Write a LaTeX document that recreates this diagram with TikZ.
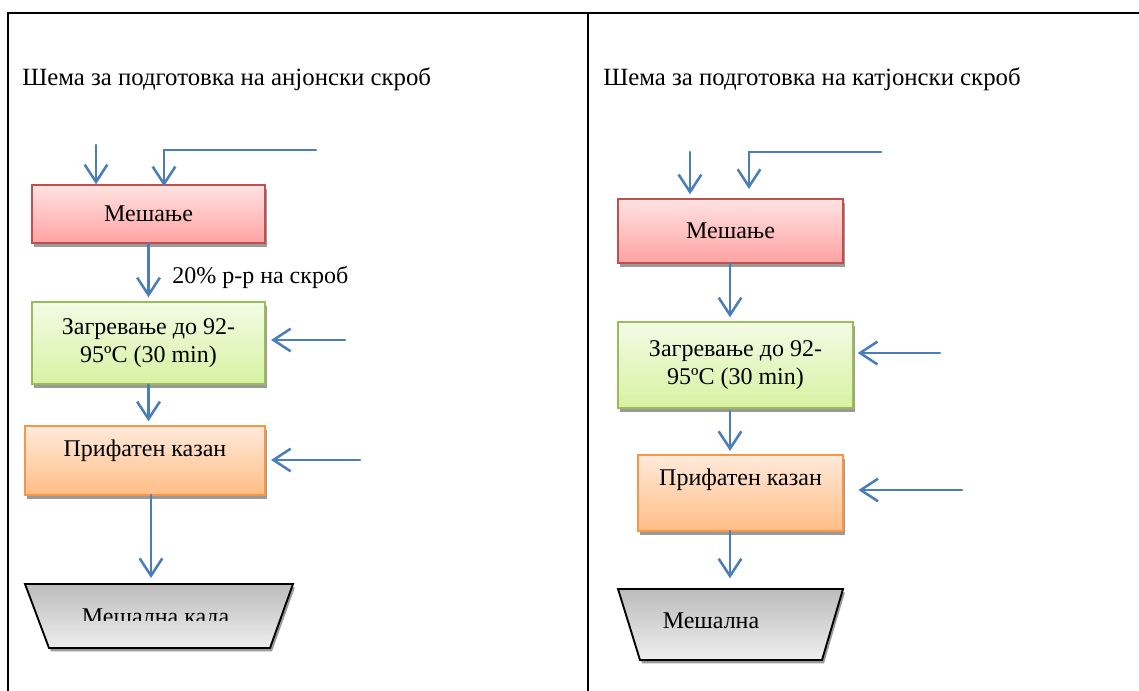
\documentclass[tikz,border=0pt]{standalone}
\usepackage{fontspec}
\setmainfont{Liberation Serif}
\usetikzlibrary{arrows.meta,shadows}
\definecolor{flowblue}{HTML}{4A7EBB}
\definecolor{redTop}{HTML}{FFE2E2}
\definecolor{redBot}{HTML}{FFA2A2}
\definecolor{redBorder}{HTML}{C0504D}
\definecolor{greenTop}{HTML}{F3FBE5}
\definecolor{greenBot}{HTML}{D6F2A2}
\definecolor{greenBorder}{HTML}{9BBB59}
\definecolor{orangeTop}{HTML}{FFEADB}
\definecolor{orangeBot}{HTML}{FFBD85}
\definecolor{orangeBorder}{HTML}{F79646}
\definecolor{tankTop}{HTML}{BCBCBC}
\definecolor{tankBot}{HTML}{EEEEEE}
\definecolor{shadowgray}{HTML}{9A9A9A}
\tikzset{
  boxbase/.style={rectangle, inner sep=0pt, line width=1.1pt, align=center,
    font=\fontsize{18}{21}\selectfont,
    drop shadow={shadow xshift=1.5pt, shadow yshift=-3pt, fill=shadowgray, opacity=1}},
  redbox/.style={boxbase, draw=redBorder, top color=redTop, bottom color=redBot},
  greenbox/.style={boxbase, draw=greenBorder, top color=greenTop, bottom color=greenBot},
  orangebox/.style={boxbase, draw=orangeBorder, top color=orangeTop, bottom color=orangeBot},
  tankshape/.style={draw=black, line width=1.4pt, top color=tankTop, bottom color=tankBot,
    drop shadow={shadow xshift=1.5pt, shadow yshift=-2.5pt, fill=shadowgray, opacity=1}},
  flow/.style={draw=flowblue, line width=1.9pt, line cap=round,
    -{Straight Barb[length=13pt, width=17pt, line width=1.9pt]}},
  titletext/.style={font=\fontsize{18.6}{21}\selectfont, anchor=base west, inner sep=0pt},
  plaintext/.style={font=\fontsize{18}{21}\selectfont, inner sep=0pt},
  frameline/.style={line width=1.5pt, draw=black}
}
\begin{document}
\begin{tikzpicture}[x=0.75pt, y=-0.75pt]
\useasboundingbox (0,0) rectangle (1139,691);
% frame
\draw[frameline] (8,691) -- (8,13) -- (1139,13);
\draw[frameline] (588,13) -- (588,691);

% titles
\node[titletext] (titleL) at (22,86) {Шема за подготовка на анјонски скроб};
\node[titletext] (titleR) at (603,86) {Шема за подготовка на катјонски скроб};

% ---------- left scheme ----------
\node[redbox, minimum width=174.75pt, minimum height=43.5pt] (mixL) at (148.5,214) {Мешање};
\node[greenbox, minimum width=174.75pt, minimum height=61.5pt] (heatL) at (148.5,343) {Загревање до 92-\\95ºC (30 min)};
\node[orangebox, minimum width=180pt, minimum height=51.75pt,
  label={[plaintext, name=recvLtext, yshift=7pt]center:Прифатен казан}] (recvL) at (145,460.5) {};
\path[tankshape] (25,584) -- (293,584) -- (270,648) -- (49,648) -- cycle;
\coordinate (tankL) at (151,584);
\begin{scope}
  \clip (20,580) rectangle (300,620);
  \node[plaintext, anchor=base] (tankLtext) at (155.5,624) {Мешална када};
\end{scope}

\coordinate (inL1) at (96,145);
\coordinate (inL2) at (316,150);
\coordinate (inL2b) at (164,150);
\coordinate (sideL1) at (345,340);
\coordinate (sideL2) at (360,460);

\draw[flow] (inL1) -- (inL1 |- mixL.north);
\draw[flow] (inL2) -- (inL2b) -- ([yshift=-1.5pt]inL2b |- mixL.north);
\draw[flow, shorten >=3pt] (mixL.south) -- (heatL.north);
\draw[flow, shorten >=3pt] (heatL.south) -- (heatL.south |- recvL.north);
\coordinate (recvLout) at (151,495);
\draw[flow, shorten >=4.5pt] (recvLout) -- (recvLout |- tankL);
\draw[flow, shorten >=4pt] (sideL1) -- (sideL1 -| heatL.east);
\draw[flow, shorten >=4pt] (sideL2) -- (sideL2 -| recvL.east);
\node[plaintext, anchor=west] (labelL) at (172,277) {20\% р-р на скроб};

% ---------- right scheme ----------
\node[redbox, minimum width=168.75pt, minimum height=48pt] (mixR) at (730.5,231) {Мешање};
\node[greenbox, minimum width=176.25pt, minimum height=64.5pt] (heatR) at (735.5,365) {Загревање до 92-\\95ºC (30 min)};
\node[orangebox, minimum width=153.75pt, minimum height=57pt,
  label={[plaintext, name=recvRtext, yshift=10pt]center:Прифатен казан}] (recvR) at (740.5,493) {};
\path[tankshape] (618,589) -- (843,589) -- (822,660) -- (640,660) -- cycle;
\coordinate (tankR) at (730,589);
\node[plaintext, anchor=base] (tankRtext) at (711,628) {Мешална};

\coordinate (inR1) at (690,152);
\coordinate (inR2) at (881,152);
\coordinate (inR2b) at (749,152);
\coordinate (sideR1) at (940,353);
\coordinate (sideR2) at (962,490);
\coordinate (mixRout) at (730,263);
\coordinate (heatRout) at (730,411);
\coordinate (recvRout) at (730,531);

\draw[flow, shorten >=3pt] (inR1) -- (inR1 |- mixR.north);
\draw[flow, shorten >=7pt] (inR2) -- (inR2b) -- (inR2b |- mixR.north);
\draw[flow, shorten >=3pt] (mixRout) -- (mixRout |- heatR.north);
\draw[flow, shorten >=2.5pt] (heatRout) -- (heatRout |- recvR.north);
\draw[flow, shorten >=8pt] (recvRout) -- (recvRout |- tankR);
\draw[flow, shorten >=3pt] (sideR1) -- (sideR1 -| heatR.east);
\draw[flow, shorten >=11pt] (sideR2) -- (sideR2 -| recvR.east);
\end{tikzpicture}
\end{document}
